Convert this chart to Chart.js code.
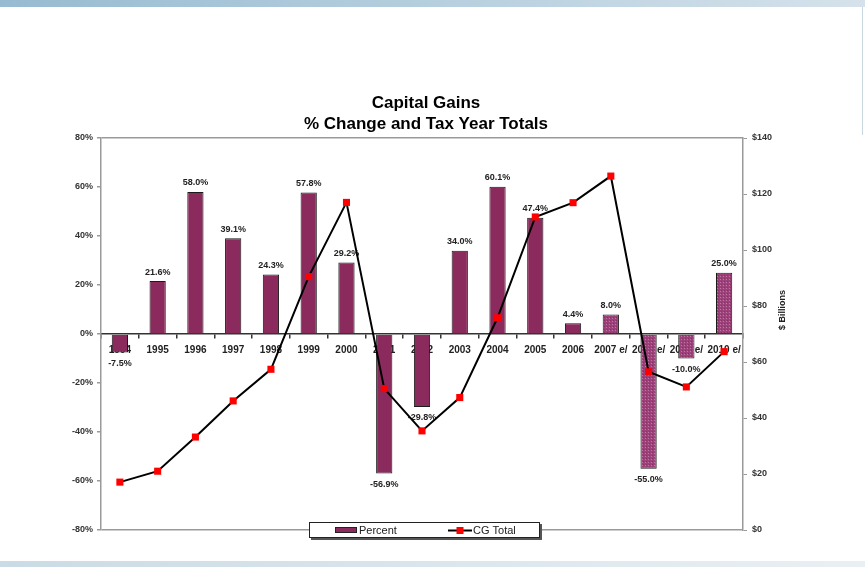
<!DOCTYPE html>
<html>
<head>
<meta charset="utf-8">
<script src="https://cdn.jsdelivr.net/npm/chart.js@4"></script>
<style>
  html, body { margin: 0; padding: 0; background: #fff; }
  #wrap { position: relative; width: 865px; height: 567px; overflow: hidden; }
  .band-top { position: absolute; left: 0; top: 0; width: 865px; height: 7px; background: linear-gradient(to right, #97bbd1, #d5e2eb); }
  .band-bottom { position: absolute; left: 0; top: 561px; width: 865px; height: 6px; background: linear-gradient(to right, #cbdbe5, #e9f0f4); }
  .edge { position: absolute; left: 862px; top: 7px; width: 1px; height: 128px; background: #c9d7e0; }
  canvas { position: absolute; left: 0; top: 0; }
</style>
</head>
<body>
<div id="wrap">
  <div class="band-top"></div>
  <div class="band-bottom"></div>
  <div class="edge"></div>
  <canvas id="myChart" width="865" height="567"></canvas>
</div>
<script>
  // data
  const years = ['1994', '1995', '1996', '1997', '1998', '1999', '2000', '2001', '2002',
                 '2003', '2004', '2005', '2006', '2007 e/', '2008 e/', '2009 e/', '2010 e/'];
  const percentChange = [-7.5, 21.6, 58.0, 39.1, 24.3, 57.8, 29.2, -56.9, -29.8,
                         34.0, 60.1, 47.4, 4.4, 8.0, -55.0, -10.0, 25.0];
  const cgTotal = [17.1, 21.0, 33.2, 46.1, 57.4, 90.5, 117.0, 50.5, 35.4,
                   47.3, 75.8, 111.8, 116.9, 126.4, 56.5, 51.1, 63.7];
  const estimated = [false, false, false, false, false, false, false, false, false,
                     false, false, false, false, true, true, true, true];
  const titleLines = ['Capital Gains', '% Change and Tax Year Totals'];

  const FONT = 'Liberation Sans, Arial, sans-serif';
  const barColor = '#8b2a5c';

  // dotted fill for the estimate years
  function makePattern() {
    const c = document.createElement('canvas');
    c.width = 3; c.height = 3;
    const g = c.getContext('2d');
    g.fillStyle = '#9c4179';
    g.fillRect(0, 0, 3, 3);
    g.fillStyle = '#bd77a5';
    g.fillRect(0, 0, 1, 1);
    g.fillStyle = '#8a3166';
    g.fillRect(1, 2, 1, 1);
    return g.createPattern(c, 'repeat');
  }
  const estPattern = makePattern();

  const barLabels = {
    id: 'barLabels',
    afterDatasetDraw(chart, args) {
      if (args.index !== 0) return;
      const ctx = chart.ctx;
      ctx.save();
      ctx.font = 'bold 9px ' + FONT;
      ctx.fillStyle = '#222';
      ctx.textAlign = 'center';
      ctx.textBaseline = 'middle';
      args.meta.data.forEach((bar, i) => {
        const v = percentChange[i];
        const y = v >= 0 ? bar.y - 9 : bar.y + 11;
        ctx.fillText(v.toFixed(1) + '%', bar.x, y);
      });
      ctx.restore();
    }
  };

  const extras = {
    id: 'extras',
    afterDraw(chart) {
      const ctx = chart.ctx;

      // title
      ctx.save();
      ctx.font = 'bold 17px ' + FONT;
      ctx.fillStyle = '#000';
      ctx.textAlign = 'center';
      ctx.textBaseline = 'middle';
      ctx.fillText(titleLines[0], 426, 103);
      ctx.fillText(titleLines[1], 426, 124);
      ctx.restore();

      // right axis title
      ctx.save();
      ctx.translate(783, 310);
      ctx.rotate(-Math.PI / 2);
      ctx.font = 'bold 9px ' + FONT;
      ctx.fillStyle = '#222';
      ctx.textAlign = 'center';
      ctx.textBaseline = 'middle';
      ctx.fillText('$ Billions', 0, 0);
      ctx.restore();

      // legend box
      ctx.save();
      ctx.fillStyle = '#555';
      ctx.fillRect(311, 524, 231, 16);
      ctx.fillStyle = '#fff';
      ctx.fillRect(309, 522, 231, 16);
      ctx.strokeStyle = '#222';
      ctx.lineWidth = 1;
      ctx.strokeRect(309.5, 522.5, 230, 15);

      const ds = chart.data.datasets;
      ctx.fillStyle = barColor;
      ctx.fillRect(335, 527, 22, 6);
      ctx.strokeStyle = '#222';
      ctx.strokeRect(335.5, 527.5, 21, 5);
      ctx.font = '11px ' + FONT;
      ctx.fillStyle = '#222';
      ctx.textBaseline = 'middle';
      ctx.fillText(ds[0].label, 359, 530.5);

      ctx.beginPath();
      ctx.moveTo(448, 530.5);
      ctx.lineTo(472, 530.5);
      ctx.lineWidth = 2;
      ctx.strokeStyle = '#000';
      ctx.stroke();
      ctx.fillStyle = '#ff0000';
      ctx.fillRect(456.5, 527, 7, 7);
      ctx.fillStyle = '#222';
      ctx.fillText(ds[1].label, 473, 530.5);
      ctx.restore();
    }
  };

  const ctx = document.getElementById('myChart');

  new Chart(ctx, {
    type: 'bar',
    data: {
      labels: years,
      datasets: [{
        type: 'bar',
        label: 'Percent',
        data: percentChange,
        yAxisID: 'y',
        backgroundColor: estimated.map(e => e ? estPattern : barColor),
        borderColor: '#1a1a1a',
        borderWidth: 1,
        barPercentage: 0.43,
        categoryPercentage: 1,
        order: 1
      }, {
        type: 'line',
        label: 'CG Total',
        data: cgTotal,
        yAxisID: 'y1',
        borderColor: '#000',
        borderWidth: 2,
        tension: 0,
        pointStyle: 'rect',
        pointRadius: 5,
        pointBackgroundColor: '#ff0000',
        pointBorderColor: '#ff0000',
        pointBorderWidth: 0,
        order: 0
      }]
    },
    options: {
      responsive: false,
      animation: false,
      devicePixelRatio: 1,
      layout: { padding: { left: 0, right: 0, top: 138, bottom: 37 } },
      plugins: {
        legend: { display: false },
        tooltip: { enabled: false },
        title: { display: false }
      },
      scales: {
        x: {
          position: { y: 0 },
          offset: true,
          border: { display: true, color: '#333', width: 1.5 },
          grid: { offset: true, drawOnChartArea: false, drawTicks: true, tickLength: 4, color: '#333', lineWidth: 1.5 },
          ticks: {
            color: '#222',
            padding: 6,
            maxRotation: 0,
            autoSkip: false,
            font: { family: FONT, size: 10, weight: 'bold' }
          }
        },
        y: {
          position: 'left',
          min: -80,
          max: 80,
          afterFit: (scale) => { scale.width = 101; },
          border: { display: true, color: '#9a9a9a', width: 1.5 },
          grid: {
            color: (c) => (c.tick && Math.abs(c.tick.value) === 80) ? '#9a9a9a' : 'rgba(0,0,0,0)',
            lineWidth: 1.5,
            tickColor: '#9a9a9a',
            tickLength: 4
          },
          ticks: {
            stepSize: 20,
            padding: 4,
            color: '#333',
            font: { family: FONT, size: 9, weight: 'bold' },
            callback: (v) => v + '%'
          }
        },
        y1: {
          position: 'right',
          min: 0,
          max: 140,
          afterFit: (scale) => { scale.width = 122; },
          border: { display: true, color: '#9a9a9a', width: 1.5 },
          grid: { drawOnChartArea: false, tickColor: '#9a9a9a', tickLength: 4 },
          ticks: {
            stepSize: 20,
            padding: 5,
            color: '#333',
            font: { family: FONT, size: 9, weight: 'bold' },
            callback: (v) => '$' + v
          }
        }
      }
    },
    plugins: [barLabels, extras]
  });
</script>
</body>
</html>
